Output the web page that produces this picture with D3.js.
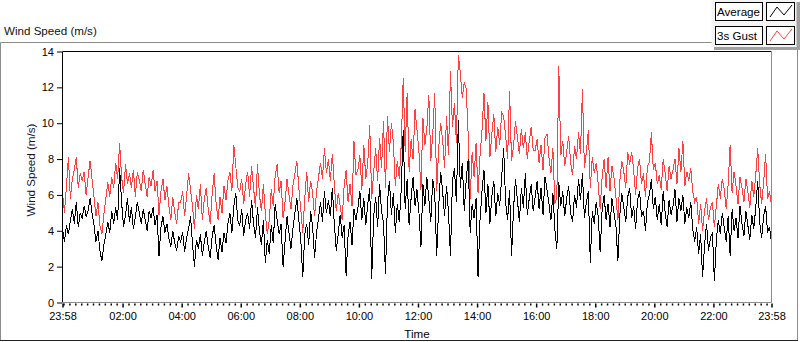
<!DOCTYPE html>
<html>
<head>
<meta charset="utf-8">
<script src="https://cdn.jsdelivr.net/npm/d3@7"></script>
<style>
  body { margin: 0; background: #fff; }
  text { font-family: "Liberation Sans", Arial, sans-serif; }
</style>
</head>
<body>
<div id="chart"></div>
<script>
// data: one sample every 4 minutes from 23:58 to 23:58
const startTime = "2019-01-01 23:58";
const endTime = "2019-01-02 23:58";
const stepMinutes = 4;

const yTicks = [0, 2, 4, 6, 8, 10, 12, 14];
const xTickLabels = ["23:58", "02:00", "04:00", "06:00", "08:00", "10:00", "12:00",
  "14:00", "16:00", "18:00", "20:00", "22:00", "23:58"];
const seriesNames = ["Average", "3s Gust"];

const average = [
  4.1, 3.4, 4.3, 3.8, 4.6, 5.2, 4.4, 5.6, 4.2, 5.0,
  4.7, 5.4, 4.8, 5.1, 5.8, 5.0, 4.3, 3.4, 4.0, 2.9,
  2.3, 3.2, 3.8, 4.5, 3.9, 5.1, 4.4, 5.3, 4.6, 7.5,
  5.6, 4.2, 4.9, 5.8, 4.5, 5.3, 4.1, 4.8, 5.6, 5.0,
  4.4, 5.2, 4.6, 4.0, 5.1, 4.7, 5.3, 4.3, 4.9, 2.6,
  4.2, 4.8, 3.9, 4.4, 3.6, 3.1, 4.0, 3.3, 2.9, 3.7,
  3.4, 3.9, 2.8, 3.6, 4.1, 4.8, 3.3, 2.0, 3.5, 3.0,
  3.8, 2.6, 3.4, 4.0, 3.1, 2.5, 3.7, 4.3, 3.2, 2.4,
  3.6, 2.8, 3.9, 3.3, 4.4, 5.0, 3.9, 5.4, 6.1, 4.6,
  4.3, 5.2, 3.7, 4.6, 5.0, 4.1, 5.7, 4.4, 3.6, 5.3,
  4.0, 3.2, 4.6, 2.2, 3.5, 2.7, 4.3, 3.3, 5.5, 4.6,
  3.8, 4.4, 2.0, 3.4, 4.8, 3.9, 3.0, 4.1, 5.0, 5.8,
  4.6, 3.5, 1.4, 3.8, 4.4, 3.2, 5.1, 4.2, 2.5, 3.9,
  4.7, 5.6, 4.5, 6.2, 5.0, 5.7, 4.8, 6.4, 4.4, 2.9,
  3.8, 4.9, 3.6, 4.3, 1.5, 3.7, 4.5, 3.2, 5.2, 4.6,
  5.3, 6.2, 4.6, 5.8, 4.3, 5.5, 6.4, 1.3, 4.8, 5.9,
  4.2, 6.6, 5.1, 4.4, 1.6, 5.6, 6.8, 4.9, 6.1, 3.9,
  5.5, 4.5, 6.3, 9.6, 5.2, 6.9, 4.3, 5.8, 7.0, 5.4,
  6.3, 5.0, 3.1, 6.6, 5.4, 7.0, 5.8, 4.5, 6.9, 6.1,
  2.6, 5.3, 7.3, 6.2, 4.8, 6.5, 5.0, 2.6, 6.8, 7.5,
  5.6, 10.2, 6.4, 7.8, 5.1, 6.9, 8.0, 3.9, 5.5, 4.7,
  5.8, 1.4, 4.6, 6.2, 7.4, 5.0, 6.6, 4.4, 5.9, 6.8,
  4.8, 6.1, 5.4, 7.0, 8.6, 5.6, 4.6, 6.3, 2.6, 5.2,
  6.9, 5.7, 4.5, 6.4, 5.3, 7.2, 4.9, 5.8, 6.6, 5.1,
  5.9, 6.8, 5.2, 6.4, 4.9, 7.0, 6.3, 5.5, 4.6, 6.1,
  4.1, 3.0, 6.7, 5.4, 6.2, 4.8, 5.8, 6.5, 5.0, 4.5,
  6.0, 5.3, 6.9, 5.7, 7.2, 4.7, 5.6, 6.2, 2.2, 5.1,
  4.4, 5.6, 4.8, 2.8, 5.2, 6.0, 4.6, 5.5, 4.2, 5.8,
  5.0, 4.3, 2.3, 4.9, 6.1, 5.3, 4.5, 5.9, 6.4, 4.7,
  5.4, 4.1, 5.7, 6.2, 4.8, 5.1, 4.0, 5.6, 6.0, 6.9,
  5.2, 5.9, 4.6, 5.5, 4.3, 6.2, 5.0, 4.2, 5.7, 4.9,
  5.4, 6.3, 4.5, 5.8, 5.1, 6.0, 4.4, 5.3, 4.7, 5.6,
  4.1, 3.4, 4.2, 2.7, 3.8, 1.4, 3.2, 4.4, 2.9, 3.6,
  3.9, 1.2, 3.5, 4.6, 3.8, 5.0, 4.2, 3.4, 4.8, 2.6,
  5.2, 4.0, 4.7, 3.6, 5.4, 4.4, 3.7, 5.1, 4.3, 3.5,
  4.9, 4.1, 5.3, 6.8, 4.5, 3.6, 4.8, 5.4, 3.9, 4.2,
  3.3
];

const gust = [
  6.1, 5.0, 6.5, 8.1, 5.8, 6.9, 7.4, 8.1, 6.4, 7.2,
  6.8, 7.3, 6.0, 7.0, 7.9, 6.9, 5.9, 4.8, 5.6, 4.3,
  3.8, 4.9, 5.8, 6.7, 5.9, 7.0, 6.4, 7.8, 6.9, 8.9,
  7.0, 6.1, 7.7, 6.6, 7.2, 6.4, 7.4, 5.9, 7.3, 6.8,
  6.2, 7.4, 6.6, 5.9, 7.0, 6.5, 7.4, 6.2, 6.8, 4.9,
  6.2, 6.9, 5.7, 6.5, 5.4, 4.6, 5.9, 5.0, 4.4, 5.6,
  5.6, 6.2, 4.8, 5.9, 7.2, 6.3, 5.4, 4.1, 6.0, 5.2,
  6.6, 4.6, 5.8, 6.4, 5.2, 4.4, 6.1, 7.2, 5.5, 4.6,
  5.9, 5.0, 6.5, 5.7, 6.8, 7.3, 6.2, 8.8, 7.6, 6.4,
  6.2, 6.9, 5.5, 6.6, 7.3, 5.9, 7.6, 6.4, 5.3, 7.7,
  6.0, 5.1, 6.6, 4.9, 3.8, 4.6, 6.3, 5.4, 7.1, 7.7,
  6.1, 6.8, 4.7, 5.6, 6.9, 6.0, 5.2, 6.5, 7.2, 7.9,
  6.4, 5.2, 3.9, 5.8, 7.3, 5.6, 6.8, 6.1, 4.8, 6.2,
  7.0, 7.8, 6.9, 8.6, 7.2, 8.0, 6.8, 8.3, 6.6, 5.1,
  6.1, 5.4, 4.6, 6.5, 7.4, 5.6, 6.6, 5.4, 9.0, 7.1,
  7.4, 8.2, 6.3, 8.8, 6.9, 7.8, 9.9, 5.8, 7.3, 8.6,
  6.8, 9.2, 7.5, 10.1, 6.4, 10.4, 8.4, 10.0, 8.9, 6.5,
  7.9, 6.9, 8.8, 12.5, 8.4, 11.7, 7.3, 9.1, 8.0, 10.8,
  9.6, 8.4, 6.3, 10.3, 8.8, 9.7, 11.6, 7.9, 9.4, 11.7,
  6.2, 8.6, 10.0, 9.1, 7.5, 10.4, 8.2, 12.9, 9.8, 11.1,
  8.9, 13.8, 12.8, 11.4, 12.3, 11.9, 9.3, 5.8, 8.4, 7.0,
  8.9, 6.1, 8.2, 9.6, 11.7, 9.0, 11.2, 8.1, 9.4, 10.5,
  8.4, 9.8, 8.8, 10.6, 10.4, 9.3, 8.0, 11.8, 7.9, 8.7,
  10.1, 9.2, 8.3, 9.7, 8.6, 9.5, 8.0, 9.0, 9.8, 8.5,
  8.5, 9.1, 7.8, 8.8, 7.4, 9.2, 9.4, 8.1, 7.2, 8.6,
  5.5, 5.9, 13.2, 8.2, 9.0, 7.6, 8.4, 9.3, 7.8, 7.1,
  8.7, 8.0, 9.5, 8.3, 11.9, 7.5, 8.4, 9.6, 6.4, 8.1,
  7.2, 7.8, 6.6, 5.2, 7.0, 8.0, 6.4, 8.1, 6.2, 7.6,
  7.0, 5.9, 4.6, 6.8, 7.9, 7.3, 6.4, 8.4, 7.7, 8.4,
  7.4, 6.0, 7.5, 8.0, 6.6, 7.2, 5.9, 7.6, 7.8, 9.5,
  7.4, 7.8, 6.6, 7.1, 6.3, 8.0, 7.2, 6.2, 7.6, 6.9,
  7.4, 8.0, 6.6, 8.6, 7.3, 9.0, 6.5, 7.3, 6.8, 7.5,
  6.2, 5.6, 5.9, 4.4, 5.5, 4.0, 5.1, 5.8, 4.6, 5.3,
  5.6, 4.2, 5.4, 6.6, 5.8, 6.9, 6.3, 5.2, 6.6, 8.8,
  6.1, 7.3, 6.5, 5.5, 7.0, 6.4, 5.6, 6.9, 6.2, 5.3,
  6.8, 5.9, 7.1, 8.6, 6.6, 5.5, 6.7, 8.3, 5.8, 6.2,
  5.4
];

const parseTime = d3.timeParse("%Y-%m-%d %H:%M");
const t0 = parseTime(startTime);
const t1 = parseTime(endTime);
const timeAt = i => d3.timeMinute.offset(t0, i * stepMinutes);

const width = 800, height = 342;
const plot = { left: 62.5, right: 771.5, top: 51.5, bottom: 302.5 };

const svg = d3.select('#chart')
  .append('svg')
  .attr('width', width)
  .attr('height', height);

const x = d3.scaleTime()
  .domain([t0, t1])
  .range([plot.left, plot.right]);

const y = d3.scaleLinear()
  .domain([0, 14])
  .range([plot.bottom, plot.top]);

// outer frame of the control
svg.append('path')
  .attr('fill', 'none')
  .attr('stroke', '#8c8c8c')
  .attr('d', `M0.5,341 V42.5 H797.5 V341`);
svg.append('line')
  .attr('x1', 0).attr('x2', 798)
  .attr('y1', 340.5).attr('y2', 340.5)
  .attr('stroke', '#222');

svg.append('text')
  .attr('x', 4)
  .attr('y', 35)
  .attr('fill', '#111')
  .style('font-size', '11.6px')
  .text('Wind Speed (m/s)');

// plot area
svg.append('rect')
  .attr('x', plot.left).attr('y', plot.top)
  .attr('width', plot.right - plot.left)
  .attr('height', plot.bottom - plot.top)
  .attr('fill', '#fff');

const line = (values) => d3.line()
  .x((d, i) => x(timeAt(i)))
  .y(d => y(d))(values);

svg.append('path')
  .attr('class', 'gust')
  .attr('fill', 'none')
  .attr('stroke', '#ff4040')
  .attr('stroke-width', 1)
  .attr('shape-rendering', 'crispEdges')
  .attr('d', line(gust));

svg.append('path')
  .attr('class', 'average')
  .attr('fill', 'none')
  .attr('stroke', '#000')
  .attr('stroke-width', 1)
  .attr('shape-rendering', 'crispEdges')
  .attr('d', line(average));

// plot borders: dark on left/top, grey on right/bottom
svg.append('path')
  .attr('fill', 'none')
  .attr('stroke', '#000')
  .attr('d', `M${plot.left},${plot.bottom} V${plot.top} H${plot.right}`);
svg.append('path')
  .attr('fill', 'none')
  .attr('stroke', '#8c8c8c')
  .attr('d', `M${plot.right},${plot.top} V${plot.bottom} H${plot.left}`);

// y axis
const yAxis = svg.append('g')
  .attr('transform', `translate(${plot.left - 0.5}, 0)`)
  .call(d3.axisLeft(y).tickValues(yTicks).tickSize(5).tickPadding(3));
yAxis.select('.domain').remove();
yAxis.selectAll('text').style('font-size', '11px').attr('fill', '#000')
  .style('font-family', '"Liberation Sans", Arial, sans-serif');
yAxis.selectAll('line').attr('stroke', '#000');

svg.append('text')
  .attr('transform', `translate(35, ${(plot.top + plot.bottom) / 2 - 7}) rotate(-90)`)
  .attr('text-anchor', 'middle')
  .attr('fill', '#15153a')
  .style('font-size', '11.6px')
  .text('Wind Speed (m/s)');

// x axis: major ticks with labels, minor ticks every 12 minutes
const majorTicks = xTickLabels.map((l, i) => {
  if (i === 0) return t0;
  if (i === xTickLabels.length - 1) return t1;
  return parseTime("2019-01-02 " + l);
});
const minorTicks = d3.timeMinute.every(12).range(parseTime("2019-01-02 00:00"), t1)
  .filter(t => !majorTicks.some(m => Math.abs(m - t) < 60000));

const xMinor = svg.append('g')
  .attr('transform', `translate(0, ${plot.bottom + 1})`)
  .call(d3.axisBottom(x).tickValues(minorTicks).tickSize(2).tickFormat(''));
xMinor.select('.domain').remove();
xMinor.selectAll('line').attr('stroke', '#000').attr('stroke-width', 1.5);

const xAxis = svg.append('g')
  .attr('transform', `translate(0, ${plot.bottom + 1})`)
  .call(d3.axisBottom(x).tickValues(majorTicks).tickSize(4).tickPadding(5)
    .tickFormat((d, i) => xTickLabels[i]));
xAxis.select('.domain').remove();
xAxis.selectAll('line').attr('stroke', '#000').attr('stroke-width', 1.5);
xAxis.selectAll('text').style('font-size', '11px').attr('fill', '#000')
  .style('font-family', '"Liberation Sans", Arial, sans-serif');

svg.append('text')
  .attr('x', (plot.left + plot.right) / 2)
  .attr('y', 338)
  .attr('text-anchor', 'middle')
  .attr('fill', '#000')
  .style('font-size', '11.6px')
  .text('Time');

// legend
const legend = svg.append('g').attr('class', 'legend');
legend.append('rect')
  .attr('x', 714).attr('y', 2).attr('width', 86).attr('height', 48)
  .attr('fill', '#a0a0a0');
legend.append('rect')
  .attr('x', 711.5).attr('y', -1).attr('width', 85).attr('height', 48)
  .attr('fill', '#f4f4f4');

const colors = ['#000', '#ff4040'];
const swatch = d3.line()([[770, 17], [777, 7], [784, 15], [792, 5]]);

const items = legend.selectAll('.item')
  .data(seriesNames)
  .enter()
  .append('g')
  .attr('class', 'item')
  .attr('transform', (d, i) => `translate(0, ${i * 24})`);

items.append('rect')
  .attr('x', 715.5).attr('y', 2.5).attr('width', 47).attr('height', 18)
  .attr('fill', '#fff').attr('stroke', '#000');
items.append('text')
  .attr('x', 717)
  .attr('y', 16)
  .attr('fill', '#000')
  .style('font-size', '11.6px')
  .text(d => d);
items.append('rect')
  .attr('x', 766.5).attr('y', 2.5).attr('width', 28).attr('height', 18)
  .attr('fill', '#fff').attr('stroke', '#000');
items.append('path')
  .attr('fill', 'none')
  .attr('stroke', (d, i) => colors[i])
  .attr('d', swatch);
</script>
</body>
</html>
